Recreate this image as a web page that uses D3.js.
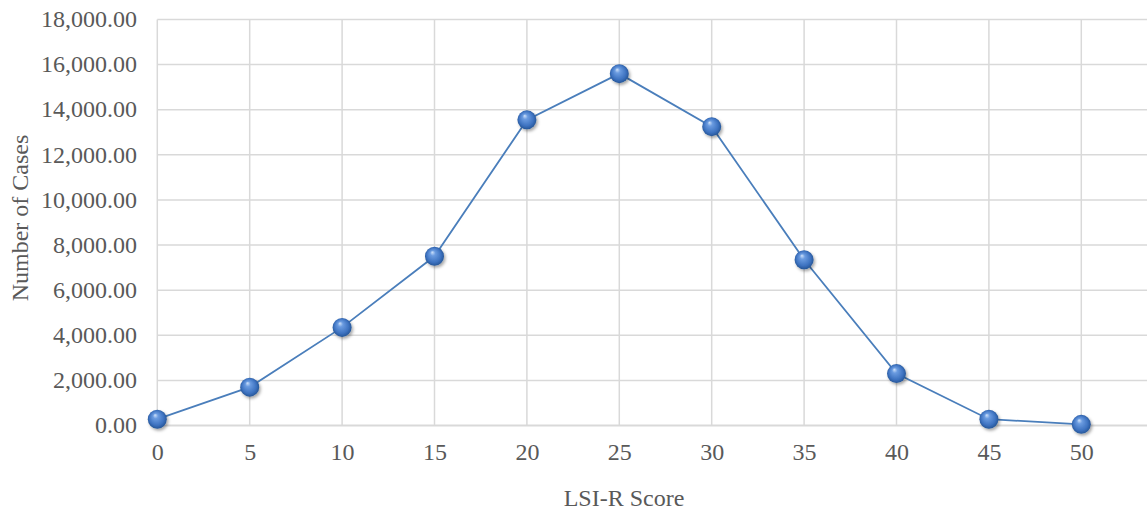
<!DOCTYPE html>
<html><head><meta charset="utf-8">
<script src="https://cdn.jsdelivr.net/npm/d3@7"></script>
<style>body{margin:0;background:#fff}svg{display:block}</style>
</head><body>
<script>
const scores = [0,5,10,15,20,25,30,35,40,45,50];
const cases = [280,1700,4350,7500,13550,15600,13250,7350,2300,280,50];
const yTicks = [0,2000,4000,6000,8000,10000,12000,14000,16000,18000];
const xTicks = [0,5,10,15,20,25,30,35,40,45,50];
const xTitle = "LSI-R Score", yTitle = "Number of Cases";

const W=1147,H=510;
const svg=d3.select("body").append("svg").attr("width",W).attr("height",H);
const x=d3.scaleLinear().domain([0,5]).range([157.3,249.7]);
const y=d3.scaleLinear().domain([0,18000]).range([425.5,19.5]);
const font="'Liberation Serif','Times New Roman',serif";
const FS=24;
const defs=svg.append("defs");
const rg=defs.append("radialGradient").attr("id","ball").attr("cx","0.5").attr("cy","0.5").attr("r","0.55").attr("fx","0.38").attr("fy","0.28");
rg.append("stop").attr("offset","0").attr("stop-color","#cfe2fb");
rg.append("stop").attr("offset","0.25").attr("stop-color","#6a9be0");
rg.append("stop").attr("offset","0.7").attr("stop-color","#3d72c0");
rg.append("stop").attr("offset","1").attr("stop-color","#1f4e8c");
const f=defs.append("filter").attr("id","sh").attr("x","-50%").attr("y","-50%").attr("width","200%").attr("height","200%");
f.append("feDropShadow").attr("dx",1.5).attr("dy",2).attr("stdDeviation",1.5).attr("flood-color","#000").attr("flood-opacity",0.35);

const xEnd=W;
const g=svg.append("g");
g.selectAll("line.h").data(yTicks).join("line")
 .attr("x1",x(0)).attr("x2",xEnd).attr("y1",d=>y(d)).attr("y2",d=>y(d))
 .attr("stroke","#d9d9d9").attr("stroke-width",d=>d===0?2:1.5);
g.selectAll("line.v").data(xTicks).join("line")
 .attr("x1",d=>x(d)).attr("x2",d=>x(d)).attr("y1",y(18000)).attr("y2",y(0))
 .attr("stroke","#d9d9d9").attr("stroke-width",1.5);

const ya=svg.append("g").attr("transform",`translate(137,0)`)
 .call(d3.axisLeft(y).tickValues(yTicks).tickSize(0).tickPadding(0).tickFormat(d3.format(",.2f")));
ya.select(".domain").remove();
ya.selectAll("text").attr("font-family",font).attr("font-size",FS).attr("fill","#595959").attr("dy","0.3em");
const xa=svg.append("g").attr("transform",`translate(0,460)`)
 .call(d3.axisBottom(x).tickValues(xTicks).tickSize(0).tickPadding(0).tickFormat(d3.format("d")));
xa.select(".domain").remove();
xa.selectAll("text").attr("font-family",font).attr("font-size",FS).attr("fill","#595959").attr("y",0).attr("dy","0");

svg.append("text").attr("x",624).attr("y",506).attr("text-anchor","middle")
 .attr("font-family",font).attr("font-size",FS).attr("fill","#595959").text(xTitle);
svg.append("text").attr("transform","translate(28,218) rotate(-90)").attr("text-anchor","middle")
 .attr("font-family",font).attr("font-size",FS).attr("fill","#595959").text(yTitle);

const data=scores.map((s,i)=>({s,v:cases[i]}));
svg.append("path").datum(data)
 .attr("d",d3.line().x(d=>x(d.s)).y(d=>y(d.v)))
 .attr("fill","none").attr("stroke","#4a7ebb").attr("stroke-width",1.8);
svg.selectAll("circle.m").data(data).join("circle")
 .attr("cx",d=>x(d.s)).attr("cy",d=>y(d.v)).attr("r",9.5)
 .attr("fill","url(#ball)").attr("filter","url(#sh)");
</script>
</body></html>
